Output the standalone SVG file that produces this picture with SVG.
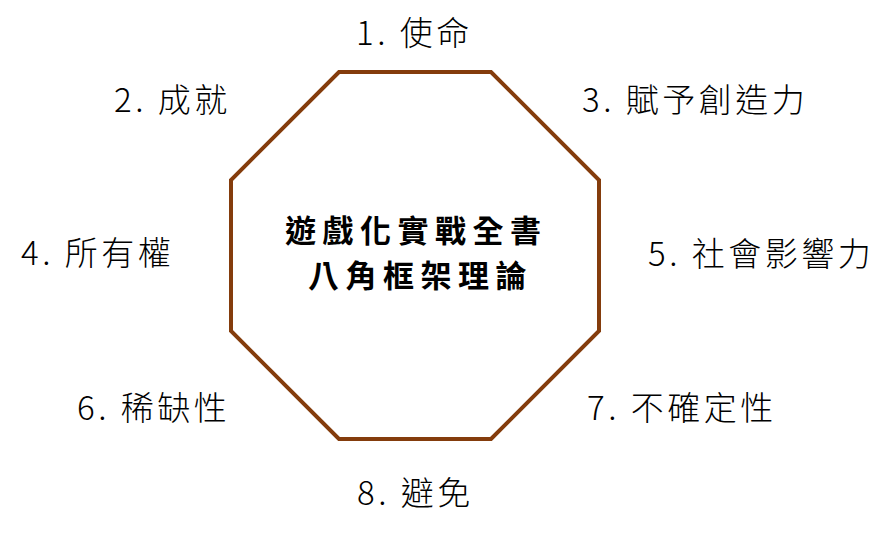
<svg xmlns="http://www.w3.org/2000/svg" width="895" height="535" viewBox="0 0 895 535">
<style>
.lbl{font-family:"Noto Sans CJK TC","Noto Sans CJK SC",sans-serif;font-size:33px;letter-spacing:3.5px;fill:#000;font-weight:300}
.title{font-family:"Noto Sans CJK TC","Noto Sans CJK SC",sans-serif;font-size:31px;letter-spacing:6.5px;font-weight:bold;fill:#000}
</style>
<rect width="895" height="535" fill="#fff"/>
<g id="connectors"></g>
<g id="octagon">
<polygon points="339,72 491,72 599,180 599,331 491,439 339,439 231,331 231,180" fill="#fff" stroke="#843C0C" stroke-width="4"/>
<text class="title" x="285" y="242">遊戲化實戰全書</text>
<text class="title" x="308" y="287">八角框架理論</text>
</g>
<g id="n1"><text class="lbl" x="356" y="45">1. 使命</text></g>
<g id="n2"><text class="lbl" x="114" y="112">2. 成就</text></g>
<g id="n3"><text class="lbl" x="582" y="112">3. 賦予創造力</text></g>
<g id="n4"><text class="lbl" x="21" y="265">4. 所有權</text></g>
<g id="n5"><text class="lbl" x="648" y="266">5. 社會影響力</text></g>
<g id="n6"><text class="lbl" x="77" y="420">6. 稀缺性</text></g>
<g id="n7"><text class="lbl" x="587" y="420">7. 不確定性</text></g>
<g id="n8"><text class="lbl" x="357" y="505">8. 避免</text></g>
</svg>
